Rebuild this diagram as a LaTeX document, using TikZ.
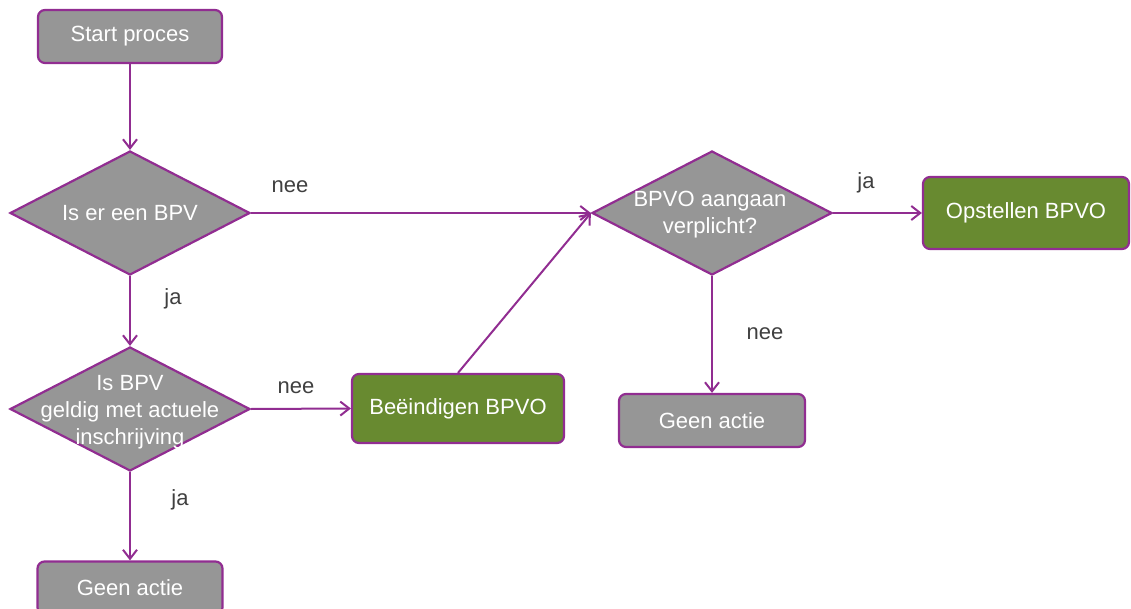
\documentclass[tikz,border=0pt]{standalone}
\usepackage{fontspec}
\setmainfont{Liberation Sans}
\usetikzlibrary{shapes.geometric,arrows.meta}
\definecolor{flowpurple}{RGB}{145,45,145}
\definecolor{flowgrey}{RGB}{150,150,150}
\definecolor{flowgreen}{RGB}{104,138,48}
\definecolor{labelgrey}{RGB}{64,64,64}
\begin{document}
\begin{tikzpicture}[x=1pt,y=-1pt,
  every node/.style={font=\fontsize{22}{27}\selectfont},
  boxbase/.style={draw=flowpurple,line width=2.2pt,rounded corners=7pt,text=white,inner sep=0pt},
  greybox/.style={boxbase,fill=flowgrey},
  greenbox/.style={boxbase,fill=flowgreen},
  decision/.style={diamond,draw=flowpurple,line width=2.2pt,fill=flowgrey,inner sep=0pt,
    minimum width=240pt,minimum height=124pt},
  dtext/.style={text=white,align=center,inner sep=0pt},
  lbl/.style={text=labelgrey,inner sep=0pt},
  flow/.style={draw=flowpurple,line width=2pt,-{Straight Barb[length=9pt,width=14pt,line width=2pt]}}]
\useasboundingbox (0,0) rectangle (1131,609);

% nodes
\node[greybox,minimum width=184pt,minimum height=53pt] (start) at (130,36.5) {Start proces};
\node[decision] (d1) at (130,213) {};
\node[dtext] (d1t) at (d1) {Is er een BPV};
\node[decision] (d3) at (130,409) {};
\node[dtext] (d3t) at (130,412) {Is BPV\\geldig met actuele\\inschrijving};
\node[greybox,minimum width=185pt,minimum height=53pt] (ga1) at (130,588) {Geen actie};
\node[greenbox,minimum width=212pt,minimum height=69pt] (stop) at (458,408.5) {Beëindigen BPVO};
\node[decision] (d2) at (712,213) {};
\node[dtext] (d2t) at (710,215) {BPVO aangaan\\verplicht?};
\node[greenbox,minimum width=206pt,minimum height=72pt] (make) at (1026,213) {Opstellen BPVO};
\node[greybox,minimum width=186pt,minimum height=53pt] (ga2) at (712,420.5) {Geen actie};

% connectors
\draw[flow] (start) -- (d1.north);
\draw[flow] (d1.east) -- (d2.west);
\draw[flow] (d1.south) -- (d3.north);
\draw[flow] (d3.east) -- (stop.west);
\draw[flow] (d3.south) -- (ga1.north);
\draw[flow] (stop.north) -- (d2.west);
\draw[flow] (d2.east) -- (make.west);
\draw[flow] (d2.south) -- (ga2.north);

% branch labels
\node[lbl] (l1) at (290,187) {nee};
\node[lbl] (l2) at (173,299) {ja};
\node[lbl] (l3) at (296,388) {nee};
\node[lbl] (l4) at (180,500) {ja};
\node[lbl] (l5) at (866,183) {ja};
\node[lbl] (l6) at (765,334) {nee};
\end{tikzpicture}
\end{document}
